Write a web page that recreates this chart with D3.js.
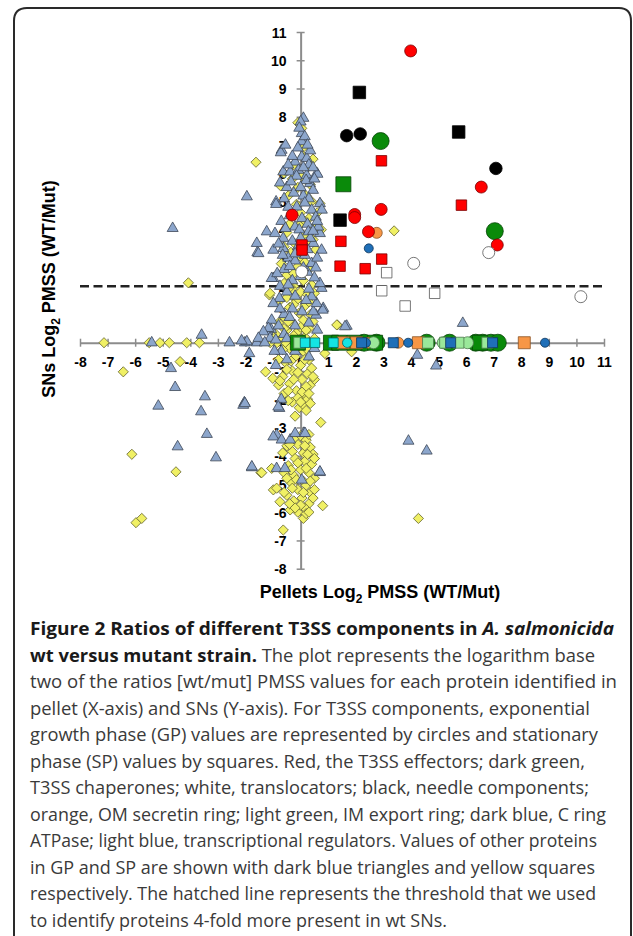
<!DOCTYPE html>
<html>
<head>
<meta charset="utf-8">
<script src="https://cdn.jsdelivr.net/npm/d3@7/dist/d3.min.js"></script>
<style>
html, body { margin: 0; padding: 0; background: #fff; }
svg { display: block; }
</style>
</head>
<body>
<script>
// Figure 2 scatter: Pellets vs SNs log2 PMSS (WT/Mut)
/////////////////////////////////

// axis ticks
var xTicks = d3.range(-8, 12),
    yTicks = d3.range(-8, 12),
    threshold = 2;

// other proteins, GP (blue triangles)
var otherGP = [
    [-0.69, 6.82], [-1.95, 5.17], [-0.89, 4.99], [-4.64, 4.05], [-1.23, 3.93], [-1.59, 3.52], [-1.57, 3.19],
    [-0.99, 2.28], [-0.63, 6.05], [0.1, 7.95], [0.1, 7.17],
    [-3.59, 0.27], [-2.58, 0], [-2.02, 0], [-1.59, 0], [-1.86, -0.38], [-4.7, -0.91], [-4.55, -1.58],
    [-3.47, -1.91], [-5.16, -2.24], [-2.04, -2.12], [-3.61, -2.44], [-0.77, -2.32], [-3.4, -3.24],
    [-4.46, -3.68], [-3.07, -4.07], [-1.77, -4.42], [-0.87, -3.27], [-1.07, 0.47], [-1.2, 0.4], [-5.4, 0],
    [0.82, 1.22], [0.56, 0.98], [1.67, 0.59], [5.88, 0.69], [4.23, -0.44], [4.91, -0.82], [3.91, -3.48],
    [4.57, -3.83], [0.7, -4.59], [0.12, -3.2], [0.58, 6.0], [0.7, 3.87], [0.76, 1.93], [0.8, 1.16],
    [0, 7.82], [0.04, 7.41], [0.04, 7.12], [-0.05, 7.6], [0.15, 7.3],
    [-0.72, 6.73], [0.04, 6.58], [0.22, 6.53], [-0.2, 6.4], [0.3, 6.3], [-0.1, 6.9], [0.35, 6.8],
    [-0.38, 6.05], [-0.08, 6.11], [0.22, 5.93], [0.61, 5.97], [-0.75, 5.66], [-0.5, 5.5], [0.34, 5.64],
    [-0.25, 5.3], [0.1, 5.2], [0.45, 5.4], [-0.6, 5.1], [0.2, 5.75],
    [-0.89, 4.9], [0.7, 4.93], [-0.14, 4.81], [0.4, 4.7], [0.77, 4.7], [-0.4, 4.5], [0.05, 4.4],
    [0.25, 4.2], [-0.2, 4.1], [0.55, 4.45], [-0.7, 4.3],
    [-0.93, 3.87], [-0.63, 3.7], [-0.99, 3.28], [-0.63, 3.34], [0.28, 3.93], [0.64, 4.1], [0.46, 3.52],
    [0.76, 3.28], [-0.3, 3.6], [0.15, 3.1], [-0.45, 3.0], [0.35, 3.7], [-0.1, 3.4],
    [-1.53, 3.16], [-1.05, 2.28], [0.7, 2.1], [0.4, 2.81], [-0.6, 2.6], [0.25, 2.5], [-0.3, 2.2],
    [0.5, 2.3], [-0.75, 2.0], [-0.2, 2.9],
    [-0.77, 1.57], [-0.99, 1.39], [0.46, 1.1], [0.58, 1.39], [0.4, 1.63], [-0.5, 1.8], [-0.3, 1.2],
    [-0.6, 1.0], [0.2, 1.5],
    [-1.05, 0.8], [-1.17, 0.51], [-1.35, 0.39], [-1.11, 0.16], [-1.53, 0.16], [-1.95, 0.04], [-2.14, 0.07],
    [1.61, 0.57], [-0.8, 0.6], [-0.6, 0.3], [-0.9, 0.1], [0.3, 0.7], [-0.4, 0.9],
    [-0.7, -0.3], [-0.5, -0.6], [0.3, -0.5], [-0.9, -0.8],
    [-0.7, -2.0],
    [-2.08, -2.21], [-0.81, -2.27], [-2.02, -2.15],
    [-0.99, -3.33], [-0.69, -3.44], [-0.38, -3.44], [-0.2, -3.21], [0.16, -3.21],
    [-1.77, -4.39], [-0.87, -4.45], [-0.57, -4.45], [0.7, -4.57], [0.04, -4.86],
    [-0.55, 7.0], [0.25, 7.0], [-0.3, 6.6], [0.45, 6.2], [-0.45, 6.3], [0.1, 6.2], [-0.15, 5.9], [0.5, 5.8],
    [-0.35, 5.7], [0.0, 5.5], [0.3, 5.1], [-0.45, 4.8], [0.15, 4.95], [0.6, 4.3], [-0.55, 4.05], [-0.05, 4.0],
    [0.45, 3.95], [-0.8, 3.5], [0.0, 3.7], [0.25, 3.3], [0.6, 3.0], [-0.2, 3.15], [-0.65, 3.1], [-0.4, 2.7],
    [0.1, 2.65], [0.55, 2.65], [-0.85, 2.45], [0.0, 2.35], [-0.45, 2.05], [0.3, 1.9], [-0.2, 1.65],
    [0.05, 1.1], [-0.75, 1.2], [0.6, 0.45], [-0.2, 0.6], [-0.5, 0.15], [0.1, 0.05], [-1.3, 0.0],
    [-0.2, -0.3], [0.5, -0.2], [-0.95, -0.3]
];

// other proteins, SP (yellow diamonds)
var otherSP = [
    [-1.62, 6.39], [-0.72, 5.55], [-4.07, 2.12], [-1.13, 1.69], [-0.1, 7.79], [0.04, 7.59], [0.12, 6.94],
    [3.39, 3.96], [0.7, 4.93],
    [-7.13, 0], [-5.49, 0], [-5.1, 0], [-4.76, 0], [-4.13, 0], [-3.67, 0], [-6.43, -1.03], [-4.37, -0.67],
    [-6.12, -3.95], [-4.52, -4.57], [-5.97, -6.37], [-5.76, -6.22], [-1.44, -4.6], [-1.27, -1.03],
    [-1.01, -1.26], [-0.63, -6.63], [0.1, -6.22], [-0.99, -5.21], [-0.87, -5.15], [-0.75, -5.63],
    [-0.38, -5.92],
    [1.33, 0.63], [1.85, -0.32], [0.88, -0.38], [0.73, -2.82], [0.8, -5.77], [4.27, -6.22], [0.49, -4.09],
    [-1.41, -4.6], [-1.05, -4.45], [-1.11, 1.75], [1.31, 0.63],
    [-0.3, 5.8], [0.2, 5.2], [0, 4.6], [0.3, 4.4], [-0.15, 4.9], [0.5, 4.1], [-0.4, 4.2], [0.75, 4.0],
    [0.1, 3.8], [-0.2, 3.5], [0.45, 3.65], [-0.5, 3.9], [0.25, 6.2], [-0.1, 5.5], [0.1, 6.6], [0.4, 5.0],
    [-0.35, 3.2], [0.05, 3.0], [-0.1, 2.7], [0.3, 2.6], [-0.5, 2.4], [0.1, 2.2], [-0.25, 2.0], [0.4, 2.05],
    [-0.7, 2.8],
    [-0.3, 1.9], [0.0, 1.8], [0.25, 1.7], [-0.5, 1.6], [-0.15, 1.5], [0.15, 1.3], [-0.4, 1.25], [0.35, 1.0],
    [-0.05, 1.05], [-0.6, 0.9], [0.1, 0.8], [-0.3, 0.7], [0.3, 0.5], [-0.5, 0.45], [-0.1, 0.4], [0.15, 0.2],
    [-0.7, 0.15], [-0.35, 0.1], [0.5, 0.15], [-0.9, 0.3], [-0.2, 0.0], [-0.55, 0.0], [-0.85, 0.0], [-1.1, 0.0],
    [-0.4, -0.2], [0.1, -0.3], [-0.2, -0.5], [0.3, -0.6], [-0.55, -0.7], [0.0, -0.8], [-0.3, -1.0],
    [0.25, -1.1], [-0.65, -1.2], [0.05, -1.3], [-0.4, -1.45], [0.35, -1.5], [-0.15, -1.7], [-0.6, -1.8],
    [0.15, -1.9], [-0.3, -2.1], [0.4, -0.9], [-0.8, -1.5], [0.5, -1.3], [-0.05, -2.3],
    [0.1, -2.2], [0.25, -2.0], [0.35, -2.15], [-0.2, -2.6],
    [0.0, -3.3], [0.2, -3.45], [-0.1, -3.6], [0.35, -3.7], [-0.3, -3.85], [0.1, -3.9], [0.45, -3.95],
    [-0.5, -3.65], [-0.65, -3.9],
    [-0.2, -4.1], [0.15, -4.2], [0.4, -4.3], [-0.45, -4.35], [0.0, -4.5], [0.3, -4.6], [-0.25, -4.7],
    [0.5, -4.8], [-0.6, -4.6], [0.1, -4.9], [-0.35, -4.95],
    [0.2, -5.05], [-0.1, -5.2], [0.35, -5.3], [-0.5, -5.4], [0.05, -5.5], [-0.25, -5.6], [0.3, -5.7],
    [-0.6, -5.3], [0.15, -5.85],
    [-0.1, -6.0], [0.2, -6.05],
    [-0.6, 6.0], [0.45, 6.5], [-0.25, 6.3], [0.05, 5.9], [0.35, 5.6], [-0.45, 5.2], [0.15, 4.3], [-0.3, 4.55],
    [0.6, 4.6], [-0.05, 4.15], [0.2, 3.55], [-0.6, 3.4], [0.55, 3.3], [-0.25, 2.45], [0.15, 2.85], [-0.6, 2.1],
    [0.5, 1.75], [-0.4, 1.95], [-0.75, 1.5], [0.3, 1.45], [-0.25, 1.35], [0.45, 0.75], [-0.8, 0.7],
    [-0.45, 0.75], [0.0, 0.55], [0.2, 0.45], [-0.6, 0.5], [-0.25, 0.25], [0.05, 0.1], [0.3, 0.0], [-1.0, 0.2],
    [-0.65, -0.25], [-0.1, -0.15], [0.25, -0.25], [-0.8, -0.6], [-0.35, -0.65], [0.15, -0.6], [-0.5, -0.95],
    [-0.1, -1.05], [0.45, -1.2], [-0.25, -1.3], [-0.75, -1.35], [0.2, -1.55], [-0.45, -1.7], [0.05, -1.75],
    [-0.1, -1.95], [0.3, -1.8], [-0.45, -2.05], [0.0, -2.1], [0.2, -2.4], [0.3, -3.25], [-0.25, -3.4],
    [0.15, -3.65], [-0.4, -3.6], [0.25, -3.95], [-0.1, -4.25], [0.5, -4.1], [-0.35, -4.5], [0.2, -4.45],
    [-0.5, -4.8], [0.35, -4.9], [-0.15, -4.85], [0.5, -5.2], [-0.3, -5.15], [0.1, -5.3], [-0.4, -5.7],
    [0.0, -5.75], [0.45, -5.5], [-0.2, -5.85], [0.3, -6.0]
];

// T3SS components: GP = circles, SP = squares
var chaperonesGP = [[2.90, 7.14], [7.04, 3.95], [2.3, 0], [2.75, 0], [4.57, 0], [5.4, 0], [6.35, 0], [6.6, 0], [6.9, 0], [7.15, 0]],
    chaperonesSP = [[1.55, 5.61], [-0.1, 0], [1.1, 0], [1.4, 0], [1.95, 0], [2.7, 0], [6.5, 0]],
    secretinGP = [[2.76, 3.89], [3.54, 0], [2.45, 0]],
    secretinSP = [[1.55, 0], [2.03, 0], [4.27, 0], [8.11, 0]],
    exportGP = [[2.64, 0], [5.17, 0], [6.05, 0]],
    exportSP = [[-0.05, 0], [4.62, 0], [5.24, 0], [5.72, 0], [6.77, 0]],
    effectorsGP = [[3.99, 10.33], [6.55, 5.51], [1.96, 4.54], [1.96, 4.43], [2.92, 4.72], [2.46, 3.93], [7.13, 3.46], [-0.31, 4.52]],
    effectorsSP = [[2.93, 6.44], [5.83, 4.87], [1.46, 3.59], [2.94, 2.96], [1.43, 2.71], [2.34, 2.62], [0.05, 3.46], [0.05, 3.28]],
    translocatorsGP = [[4.10, 2.81], [6.82, 3.19], [10.16, 1.63], [0.04, 2.51]],
    translocatorsSP = [[3.12, 2.48], [2.94, 1.84], [4.86, 1.75], [3.79, 1.30]],
    needleGP = [[1.67, 7.33], [2.16, 7.39], [7.08, 6.17]],
    needleSP = [[2.13, 8.86], [5.73, 7.46], [1.43, 4.34]],
    atpaseGP = [[2.47, 3.34], [2.37, 0], [3.90, 0], [8.86, 0]],
    atpaseSP = [[2.21, 0], [3.36, 0], [5.44, 0], [6.96, 0]],
    regulatorsGP = [[1.69, 0]],
    regulatorsSP = [[0.16, 0], [0.52, 0], [1.19, 0]];

// caption lines (b = bold, bi = bold italic, n = normal)
var caption = [
    [["Figure 2 Ratios of different T3SS components in ", "b"], ["A. salmonicida", "bi"]],
    [["wt versus mutant strain.", "b"], [" The plot represents the logarithm base", "n"]],
    [["two of the ratios [wt/mut] PMSS values for each protein identified in", "n"]],
    [["pellet (X-axis) and SNs (Y-axis). For T3SS components, exponential", "n"]],
    [["growth phase (GP) values are represented by circles and stationary", "n"]],
    [["phase (SP) values by squares. Red, the T3SS effectors; dark green,", "n"]],
    [["T3SS chaperones; white, translocators; black, needle components;", "n"]],
    [["orange, OM secretin ring; light green, IM export ring; dark blue, C ring", "n"]],
    [["ATPase; light blue, transcriptional regulators. Values of other proteins", "n"]],
    [["in GP and SP are shown with dark blue triangles and yellow squares", "n"]],
    [["respectively. The hatched line represents the threshold that we used", "n"]],
    [["to identify proteins 4-fold more present in wt SNs.", "n"]]
];
var captionEnds = [614, 595, 617, 590, 598, 585, 589, 606, 597, 595, 596, 447];

// ---- layout ----
var width = 633, height = 936;
var chartFont = "'Liberation Sans', Arial, sans-serif",
    textFont = "'Open Sans', 'Noto Sans', sans-serif",
    axisColor = '#8c8c8c';

var svg = d3.select('body').append('svg')
    .attr('width', width).attr('height', height);

// frame
svg.append('path')
    .attr('d', 'M14,940 L14,21 Q14,8 27,8 L619,8 Q631,8 631,21 L631,940')
    .attr('fill', 'none').attr('stroke', '#2a2a2a').attr('stroke-width', 2);

var x = d3.scaleLinear().domain([-8, 11]).range([80, 604]),
    y = d3.scaleLinear().domain([-8, 11]).range([568.7, 32]);

// x axis through y = 0
var gx = svg.append('g')
    .attr('transform', 'translate(0,' + y(0) + ')')
    .call(d3.axisBottom(x).tickValues(xTicks).tickFormat(function (d) { return String(d); })
        .tickSizeOuter(0).tickSizeInner(4));
gx.select('.domain').attr('stroke', axisColor).attr('stroke-width', 2);
gx.selectAll('.tick line').attr('y1', -4).attr('y2', 4).attr('stroke', axisColor).attr('stroke-width', 1.5);
gx.selectAll('.tick text').attr('y', 19.5).attr('dy', '0.36em')
    .attr('fill', '#000').style('font', 'bold 14px ' + chartFont);

// y axis through x = 0
var gy = svg.append('g')
    .attr('transform', 'translate(' + x(0) + ',0)')
    .call(d3.axisLeft(y).tickValues(yTicks).tickFormat(function (d) { return String(d); })
        .tickSizeOuter(0).tickSizeInner(4));
gy.select('.domain').attr('stroke', axisColor).attr('stroke-width', 2);
gy.selectAll('.tick line').attr('x1', -4).attr('x2', 4).attr('stroke', axisColor).attr('stroke-width', 1.5);
gy.selectAll('.tick text').attr('x', -14).attr('dy', '0.36em')
    .attr('fill', '#000').style('font', 'bold 14px ' + chartFont);

// axis titles
var xt = svg.append('text')
    .attr('x', 380).attr('y', 598).attr('text-anchor', 'middle')
    .style('font', 'bold 18px ' + chartFont).attr('fill', '#000');
xt.append('tspan').text('Pellets Log');
xt.append('tspan').attr('dy', 5).style('font-size', '12px').text('2');
xt.append('tspan').attr('dy', -5).text(' PMSS (WT/Mut)');

var yt = svg.append('text')
    .attr('transform', 'translate(55,289) rotate(-90)').attr('text-anchor', 'middle')
    .style('font', 'bold 18px ' + chartFont).attr('fill', '#000');
yt.append('tspan').text('SNs Log');
yt.append('tspan').attr('dy', 5).style('font-size', '12px').text('2');
yt.append('tspan').attr('dy', -5).text(' PMSS (WT/Mut)');

// threshold line
svg.append('line')
    .attr('x1', x(-8)).attr('x2', x(11)).attr('y1', y(threshold)).attr('y2', y(threshold))
    .attr('stroke', '#222').attr('stroke-width', 2.5).attr('stroke-dasharray', '9,4.5');

// series (draw order = stacking order)
var series = [
    { data: otherSP, shape: 'dia', size: 7.2, fill: '#f0f064', stroke: '#6a6a34' },
    { data: otherGP, shape: 'tri', size: 11, fill: '#8ca6cc', stroke: '#3c4656' },
    { data: chaperonesGP, shape: 'circle', size: 17, fill: '#0a8a0a', stroke: '#064406' },
    { data: chaperonesSP, shape: 'square', size: 15, fill: '#0a8a0a', stroke: '#064406' },
    { data: secretinGP, shape: 'circle', size: 11, fill: '#f79646', stroke: '#8a5324' },
    { data: secretinSP, shape: 'square', size: 12, fill: '#f79646', stroke: '#8a5324' },
    { data: exportGP, shape: 'circle', size: 12, fill: '#9ae89a', stroke: '#4b7a4b' },
    { data: exportSP, shape: 'square', size: 11, fill: '#9ae89a', stroke: '#4b7a4b' },
    { data: effectorsGP, shape: 'circle', size: 12, fill: '#ff0000', stroke: '#7a0000' },
    { data: effectorsSP, shape: 'square', size: 10.5, fill: '#ff0000', stroke: '#7a0000' },
    { data: translocatorsGP, shape: 'circle', size: 12, fill: '#ffffff', stroke: '#555' },
    { data: translocatorsSP, shape: 'square', size: 10.5, fill: '#ffffff', stroke: '#555' },
    { data: needleGP, shape: 'circle', size: 12.5, fill: '#000', stroke: '#000' },
    { data: needleSP, shape: 'square', size: 12.5, fill: '#000', stroke: '#000' },
    { data: atpaseGP, shape: 'circle', size: 9, fill: '#1f6fb8', stroke: '#0d3458' },
    { data: atpaseSP, shape: 'square', size: 10, fill: '#1f6fb8', stroke: '#0d3458' },
    { data: regulatorsGP, shape: 'circle', size: 9.5, fill: '#14e4e4', stroke: '#066' },
    { data: regulatorsSP, shape: 'square', size: 9.5, fill: '#14e4e4', stroke: '#066' }
];

function symbolFor(s) {
    if (s.shape === 'circle') return d3.symbol().type(d3.symbolCircle).size(Math.PI * s.size * s.size / 4)();
    if (s.shape === 'tri') return d3.symbol().type(d3.symbolTriangle).size(Math.sqrt(3) / 4 * s.size * s.size)();
    return d3.symbol().type(d3.symbolSquare).size(s.size * s.size)();
}

series.forEach(function (s) {
    var path = symbolFor(s);
    svg.append('g').selectAll('path')
        .data(s.data)
        .enter().append('path')
        .attr('d', path)
        .attr('transform', function (d) {
            return 'translate(' + x(d[0]) + ',' + y(d[1]) + ')' + (s.shape === 'dia' ? ' rotate(45)' : '');
        })
        .attr('fill', s.fill)
        .attr('stroke', s.stroke)
        .attr('stroke-width', 0.8);
});

// caption
var cap = svg.append('g');
caption.forEach(function (line, i) {
    var t = cap.append('text')
        .attr('x', 30).attr('y', 635 + 26.5 * i)
        .style('font-family', textFont).style('font-size', '18px')
        .attr('fill', '#333');
    line.forEach(function (seg) {
        t.append('tspan')
            .style('font-weight', seg[1] === 'n' ? 400 : 700)
            .style('font-style', seg[1] === 'bi' ? 'italic' : 'normal')
            .attr('fill', seg[1] === 'n' ? '#3a3a3a' : '#1a1a1a')
            .text(seg[0]);
    });
    t.attr('textLength', captionEnds[i] - 30).attr('lengthAdjust', 'spacingAndGlyphs');
});
</script>
</body>
</html>
